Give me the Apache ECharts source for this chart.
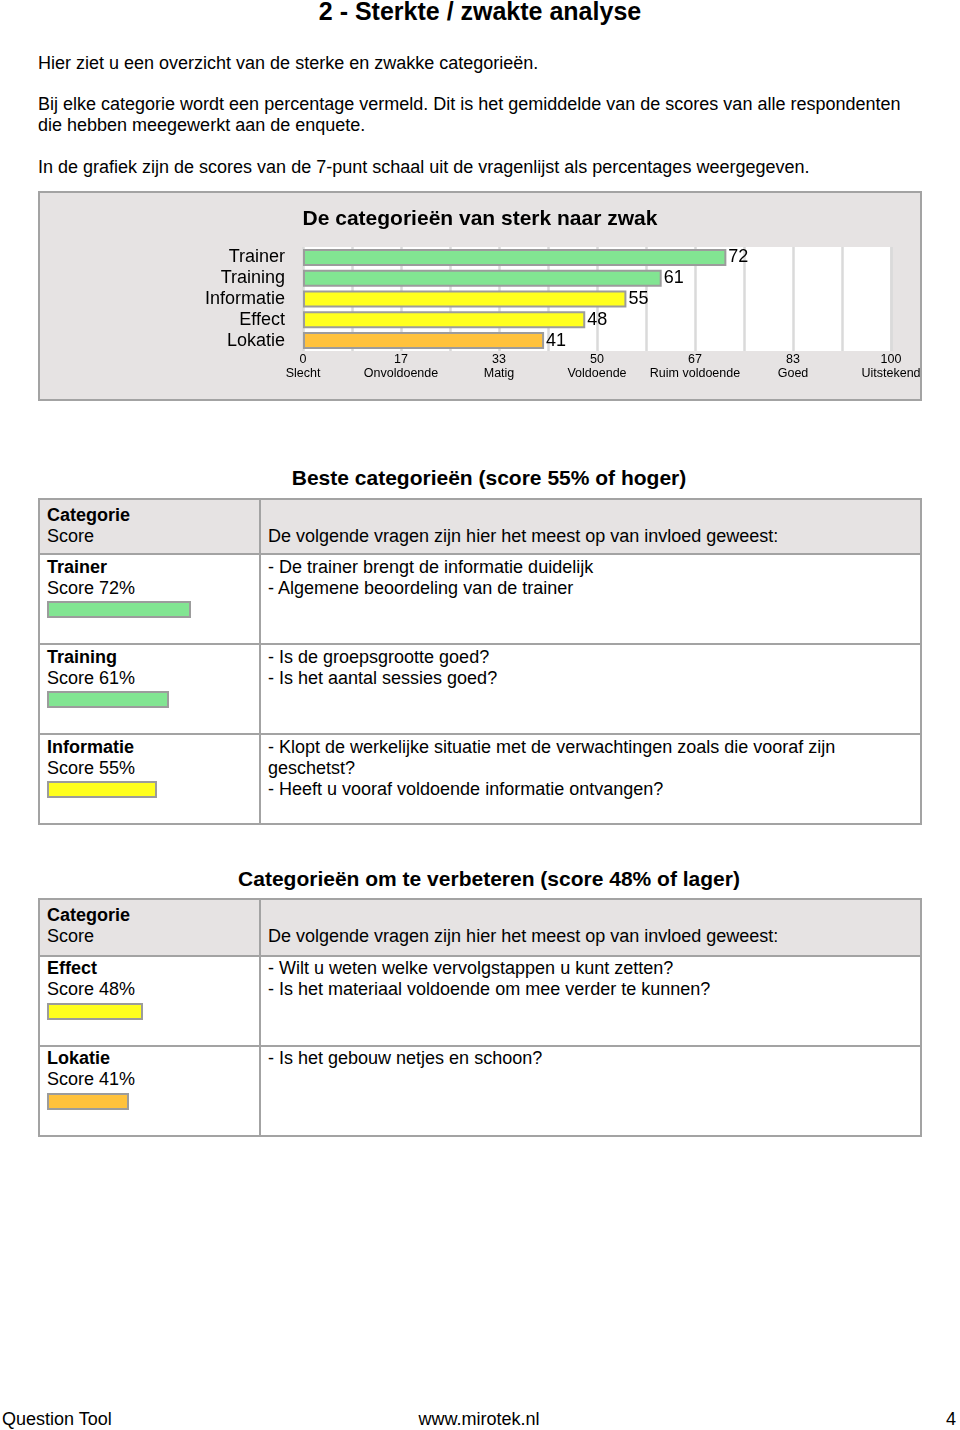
<!DOCTYPE html>
<html><head><meta charset="utf-8">
<script src="https://cdn.jsdelivr.net/npm/echarts@6/dist/echarts.min.js"></script>
<style>
html,body{margin:0;padding:0;background:#fff;}
#page{position:relative;width:960px;height:1430px;overflow:hidden;font-family:'Liberation Sans',Arial,Helvetica,sans-serif;color:#000;}
.t{position:absolute;white-space:nowrap;font-size:18px;line-height:21px;}
.b{font-weight:bold;}
.cell{position:absolute;box-sizing:border-box;border:2px solid #a3a3a3;background:#fff;}
.hdr{background:#e6e3e3;}
#chart{position:absolute;left:0;top:0;width:960px;height:1430px;pointer-events:none;z-index:10;}
</style></head>
<body><div id="page">
<div class="t b" style="left:0;width:960px;text-align:center;top:-3px;font-size:25px;line-height:28px;">2 - Sterkte / zwakte analyse</div>
<div class="t" style="left:38px;top:53px;">Hier ziet u een overzicht van de sterke en zwakke categorieën.</div>
<div class="t" style="left:38px;top:94px;">Bij elke categorie wordt een percentage vermeld. Dit is het gemiddelde van de scores van alle respondenten<br>die hebben meegewerkt aan de enquete.</div>
<div class="t" style="left:38px;top:157px;">In de grafiek zijn de scores van de 7-punt schaal uit de vragenlijst als percentages weergegeven.</div>
<div class="cell hdr" style="left:38px;top:191px;width:884px;height:210px;"></div>
<div id="chart"></div>
</div>
<script>
// ---- data ----
const chartTitle = 'De categorieën van sterk naar zwak';
const categories = ['Trainer', 'Training', 'Informatie', 'Effect', 'Lokatie'];
const scores = [72, 61, 55, 48, 41];
const barColors = ['#82e592', '#82e592', '#ffff1e', '#ffff1e', '#ffc23c'];
const tickNumbers = ['0', '17', '33', '50', '67', '83', '100'];
const tickNames = ['Slecht', 'Onvoldoende', 'Matig', 'Voldoende', 'Ruim voldoende', 'Goed', 'Uitstekend'];
const questions = [
  ['- De trainer brengt de informatie duidelijk', '- Algemene beoordeling van de trainer'],
  ['- Is de groepsgrootte goed?', '- Is het aantal sessies goed?'],
  ['- Klopt de werkelijke situatie met de verwachtingen zoals die vooraf zijn', 'geschetst?', '- Heeft u vooraf voldoende informatie ontvangen?'],
  ['- Wilt u weten welke vervolgstappen u kunt zetten?', '- Is het materiaal voldoende om mee verder te kunnen?'],
  ['- Is het gebouw netjes en schoon?']
];
const sections = [
  { title: 'Beste categorieën (score 55% of hoger)', items: [0, 1, 2] },
  { title: 'Categorieën om te verbeteren (score 48% of lager)', items: [3, 4] }
];
const headerLeft = ['Categorie', 'Score'];
const headerRight = 'De volgende vragen zijn hier het meest op van invloed geweest:';
const footer = ['Question Tool', 'www.mirotek.nl', '4'];

// ---- layout (HTML text/tables) ----
const page = document.getElementById('page');
function el(cls, style, html) {
  const d = document.createElement('div');
  d.className = cls; d.style.cssText = style; d.innerHTML = html;
  page.insertBefore(d, document.getElementById('chart'));
  return d;
}
const tableLayouts = [
  { head: 466, top: 498, hdrH: 55, rowH: 90, rowTextOff: 3.5 },
  { head: 867, top: 898, hdrH: 57, rowH: 90, rowTextOff: 2.5 }
];
const miniBars = [];
sections.forEach((sec, si) => {
  const L = tableLayouts[si];
  el('t b', `left:0;width:978px;text-align:center;top:${L.head}px;font-size:21px;line-height:24px;`, sec.title);
  el('cell hdr', `left:38px;top:${L.top}px;width:223px;height:${L.hdrH + 2}px;`, '');
  el('cell hdr', `left:259px;top:${L.top}px;width:663px;height:${L.hdrH + 2}px;`, '');
  el('t', `left:47px;top:${L.top + 7}px;`, '<b>' + headerLeft[0] + '</b><br>' + headerLeft[1]);
  el('t', `left:268px;top:${L.top + 28}px;`, headerRight);
  sec.items.forEach((ci, ri) => {
    const y = L.top + L.hdrH + ri * L.rowH;
    el('cell', `left:38px;top:${y}px;width:223px;height:${L.rowH + 2}px;`, '');
    el('cell', `left:259px;top:${y}px;width:663px;height:${L.rowH + 2}px;`, '');
    el('t', `left:47px;top:${y + L.rowTextOff}px;`, '<b>' + categories[ci] + '</b><br>Score ' + scores[ci] + '%');
    el('t', `left:268px;top:${y + L.rowTextOff}px;`, questions[ci].join('<br>'));
    miniBars.push({ ci: ci, top: y + 47 });
  });
});
el('t', 'left:2px;top:1409px;', footer[0]);
el('t', 'left:0;width:958px;text-align:center;top:1409px;', footer[1]);
el('t', 'right:4px;top:1409px;', footer[2]);

// ---- ECharts ----
const chart = echarts.init(document.getElementById('chart'), null, { renderer: 'canvas' });
const step = 100 / 12;
const grids = [{ left: 303, top: 247, width: 588, height: 104, show: true, backgroundColor: '#ffffff', borderWidth: 0, outerBoundsMode: 'none' }];
const xAxes = [{
  type: 'value', gridIndex: 0, min: 0, max: 100, interval: step,
  axisLine: { show: false }, axisTick: { show: false },
  splitLine: { show: true, lineStyle: { color: '#dadada', width: 2.5 } },
  axisLabel: {
    color: '#000', fontSize: 12.5, lineHeight: 14, margin: 2, showMinLabel: true, showMaxLabel: true,
    formatter: function (v) {
      const i = Math.round(v / step);
      return i % 2 === 0 ? tickNumbers[i / 2] + '\n' + tickNames[i / 2] : '';
    }
  }
}];
const yAxes = [{
  type: 'category', gridIndex: 0, data: categories, inverse: true,
  axisLine: { show: false }, axisTick: { show: false }, splitLine: { show: false },
  axisLabel: { color: '#000', fontSize: 18, margin: 18, interval: 0 }
}];
const series = [{
  type: 'bar', xAxisIndex: 0, yAxisIndex: 0, barWidth: 17,
  data: scores.map((s, i) => ({ value: s, itemStyle: { color: barColors[i] } })),
  itemStyle: { borderColor: '#9c9c9c', borderWidth: 2 },
  label: { show: true, position: 'right', distance: 2, color: '#000', fontSize: 18 },
  silent: true
}];
miniBars.forEach((m, k) => {
  const gi = k + 1;
  grids.push({ left: 47, top: m.top, width: 200, height: 19, outerBoundsMode: 'none' });
  xAxes.push({ type: 'value', gridIndex: gi, min: 0, max: 100, show: false, splitLine: { show: false } });
  yAxes.push({ type: 'category', gridIndex: gi, data: [categories[m.ci]], show: false });
  series.push({
    type: 'bar', xAxisIndex: gi, yAxisIndex: gi, barWidth: 17, silent: true,
    data: [{ value: scores[m.ci], itemStyle: { color: barColors[m.ci] } }],
    itemStyle: { borderColor: '#9c9c9c', borderWidth: 2 }
  });
});
chart.setOption({
  animation: false,
  backgroundColor: 'transparent',
  textStyle: { fontFamily: "'Liberation Sans', Arial, sans-serif" },
  title: { text: chartTitle, left: 'center', top: 204, textStyle: { fontSize: 21, fontWeight: 'bold', color: '#000' } },
  grid: grids, xAxis: xAxes, yAxis: yAxes, series: series
});
</script>
</body></html>
